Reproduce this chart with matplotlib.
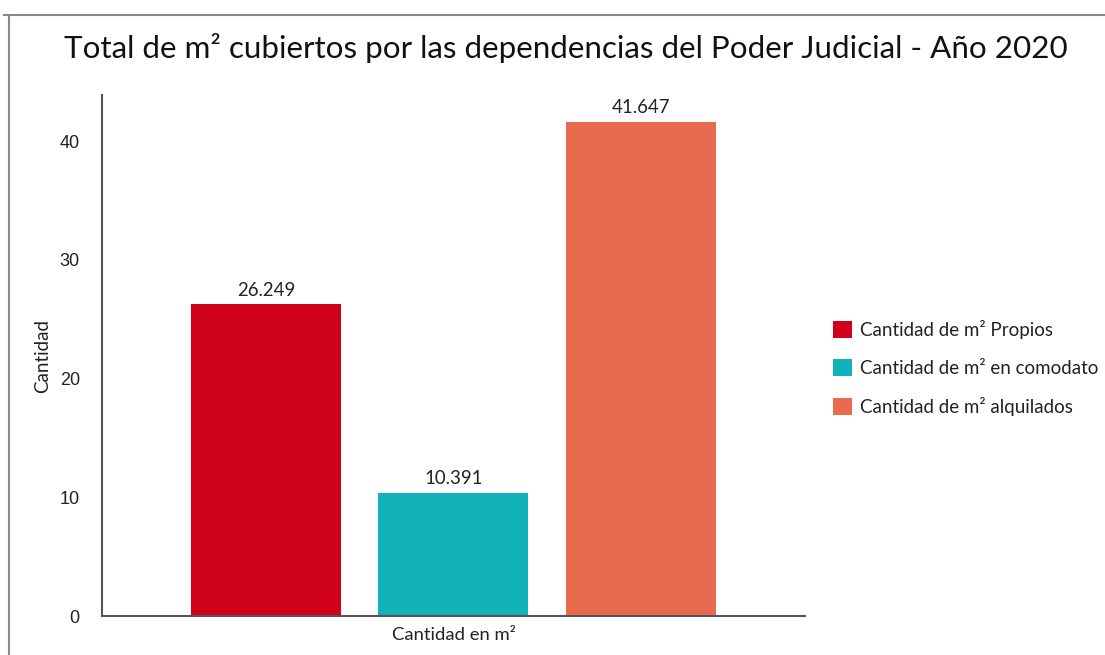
import matplotlib
matplotlib.use('Agg')
import matplotlib.pyplot as plt
from matplotlib.lines import Line2D

# datos (miles de m²)
categorias = ['Cantidad de m² Propios', 'Cantidad de m² en comodato', 'Cantidad de m² alquilados']
valores = [26.249, 10.391, 41.647]
etiquetas = ['26.249', '10.391', '41.647']
colores = ['#D0021B', '#12B2BB', '#E86B4F']
yticks = [0, 10, 20, 30, 40]

fig = plt.figure(figsize=(11.05, 6.55), dpi=100)
ax = fig.add_axes([0.0923, 0.0595, 0.6362, 0.7955])

# marco gris de la figura (solo arriba e izquierda visibles)
fig.add_artist(Line2D([0.004, 1.0], [1 - 15 / 655, 1 - 15 / 655], color='#888888', lw=1.5))
fig.add_artist(Line2D([9 / 1105, 9 / 1105], [0, 1 - 15 / 655], color='#888888', lw=1.5))

barras = ax.bar(range(len(valores)), valores, width=0.8, color=colores, label=categorias)
for b, txt in zip(barras, etiquetas):
    ax.text(b.get_x() + b.get_width() / 2, b.get_height() + 0.5, txt,
            ha='center', va='bottom', fontsize=13.4, family='Lato', color='#222222')

ax.set_xlim(-0.875, 2.877)
ax.set_ylim(0, 43.9)
ax.set_xticks([])
ax.set_yticks(yticks)
ax.set_yticklabels([str(v) for v in yticks], family='Liberation Sans', fontsize=13, color='#222222')
ax.tick_params(axis='y', length=0, pad=16)
for s in ['top', 'right']:
    ax.spines[s].set_visible(False)
for s in ['left', 'bottom']:
    ax.spines[s].set_color('#555555')
    ax.spines[s].set_linewidth(1.5)

ax.set_ylabel('Cantidad', family='Lato', fontsize=13.5, color='#222222', labelpad=6)
ax.set_xlabel('Cantidad en m²', family='Lato', fontsize=13.3, color='#222222', labelpad=8)

fig.text(0.512, 1 - 48 / 655, 'Total de m² cubiertos por las dependencias del Poder Judicial - Año 2020',
         ha='center', va='center', family='Lato', fontsize=22.6, color='#111111')

fig.legend(loc='center left', bbox_to_anchor=(0.7387, 1 - 368 / 655), frameon=False,
           prop={'family': 'Lato', 'size': 13.5}, labelcolor='#222222',
           handlelength=1.0, handleheight=1.0, handletextpad=0.45, labelspacing=1.08)

fig.savefig('out.png', dpi=100)
